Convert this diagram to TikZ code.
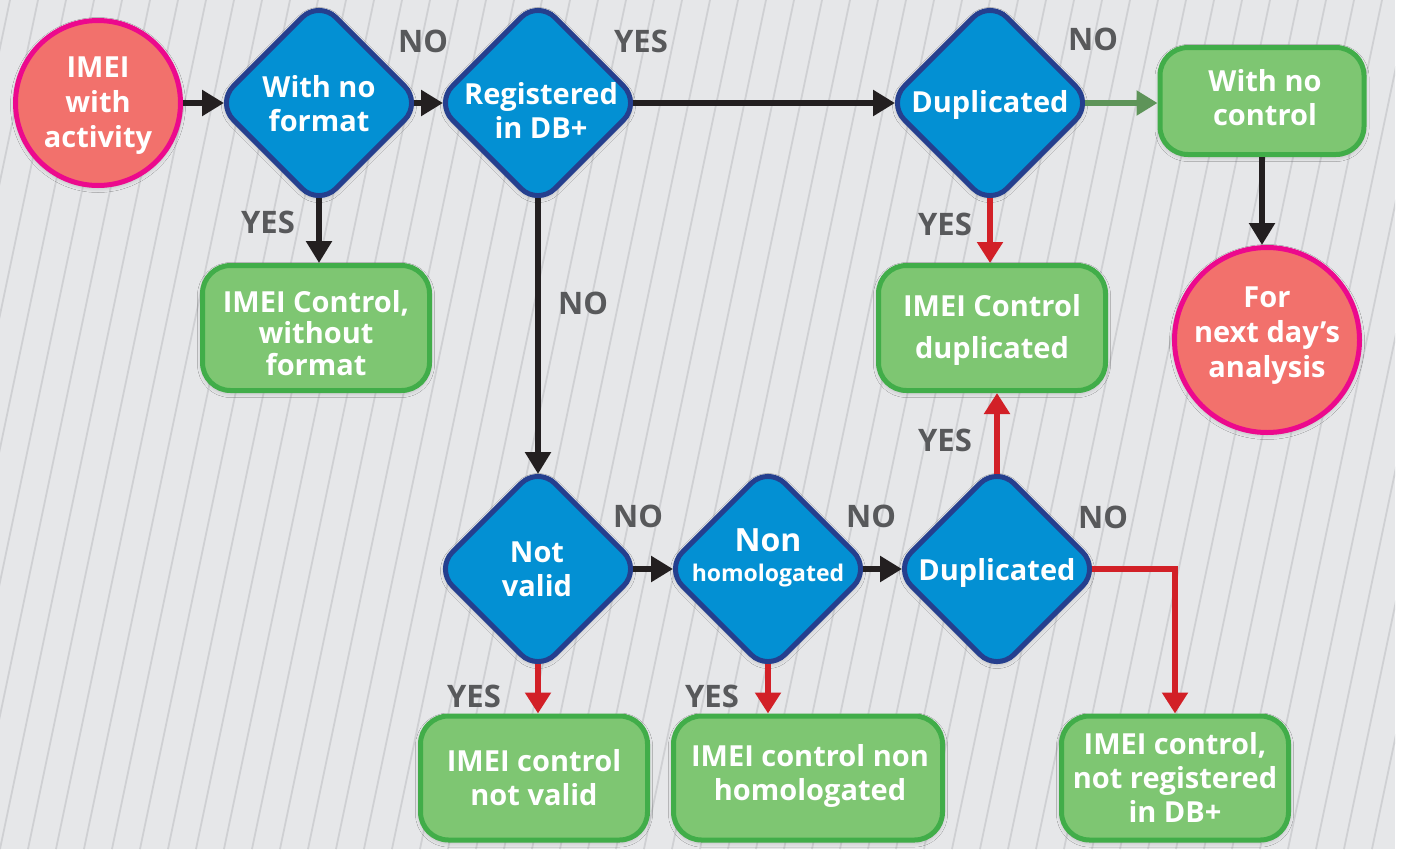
\documentclass[tikz,border=0pt]{standalone}
\usepackage{fontspec}
\setmainfont{Open Sans}
\usetikzlibrary{shapes.geometric, arrows.meta, shadows.blur}

\definecolor{bggrey}{HTML}{E6E7E9}
\definecolor{stripegrey}{HTML}{CFD0D3}
\definecolor{diafill}{HTML}{0390D3}
\definecolor{diaborder}{HTML}{253F8E}
\definecolor{boxfill}{HTML}{7EC672}
\definecolor{boxborder}{HTML}{41AD49}
\definecolor{circfill}{HTML}{F2716C}
\definecolor{circborder}{HTML}{EC098D}
\definecolor{arrowdark}{HTML}{231F20}
\definecolor{arrowred}{HTML}{D22027}
\definecolor{arrowgreen}{HTML}{5E9459}
\definecolor{labgrey}{HTML}{58595B}

\newcommand{\fsz}[2]{\fontsize{#1}{#2}\selectfont}

\tikzset{
  softshadow/.style={blur shadow={shadow xshift=0pt, shadow yshift=-2pt,
      shadow blur radius=5pt, shadow opacity=25}},
  dia/.style={diamond, draw=diaborder, fill=diafill, line width=5pt,
      minimum width=205pt, minimum height=205pt, inner sep=0pt, outer sep=0pt,
      rounded corners=24pt, softshadow},
  procbox/.style={rectangle, rounded corners=28pt, draw=boxborder, fill=boxfill,
      line width=5pt, inner sep=0pt, softshadow},
  endcirc/.style={circle, draw=circborder, fill=circfill, line width=5pt,
      inner sep=0pt, softshadow},
  caption/.style={text=white, align=center, inner sep=0pt,
      font=\bfseries\fsz{29}{34}},
  answer/.style={text=labgrey, font=\bfseries\fsz{31}{31}, inner sep=0pt},
  blk/.style={draw=arrowdark, line width=6.5pt,
      -{Triangle[length=22pt,width=25pt]}},
  redarr/.style={draw=arrowred, line width=6pt,
      -{Triangle[length=21pt,width=25pt]}},
  grnarr/.style={draw=arrowgreen, line width=5.5pt,
      -{Triangle[length=21pt,width=24pt]}},
  fromdia/.style={shorten <=-7.5pt},
  todia/.style={shorten >=-7.5pt},
}

\begin{document}
\begin{tikzpicture}[x=1pt, y=-1pt]
  \useasboundingbox (0,0) rectangle (1408,849);

  % striped backdrop
  \fill[white] (0,0) rectangle (1408,849);
  \begin{scope}
    \clip (0,0) rectangle (1395,849);
    \fill[bggrey] (0,0) rectangle (1395,849);
    \foreach \i in {-8,...,52}
      \draw[stripegrey, line width=1.8pt] (\i*28,849) -- (\i*28+178,0);
  \end{scope}

  % decisions
  \node[dia] (d1) at (319,103) {};
  \node[dia] (d2) at (538,103) {};
  \node[dia] (d3) at (990,103) {};
  \node[dia] (d4) at (538,569) {};
  \node[dia] (d5) at (768,569) {};
  \node[dia] (d6) at (997,569) {};

  \node[caption] (d1t) at (319,104) {With no\\format};
  \node[caption] (d2t) at (541,110) {Registered\\in DB+};
  \node[caption] (d3t) at (990,105) {Duplicated};
  \node[caption] (d4t) at (537,569) {Not\\valid};
  \node[caption] (d5t) at (768,558) {{\fsz{32}{32}Non}\\[-4pt]{\fsz{23}{26}homologated}};
  \node[caption] (d6t) at (997,573) {Duplicated};

  % start and end points
  \node[endcirc, minimum size=165pt] (c1) at (98,103) {};
  \node[endcirc, minimum size=185pt] (c2) at (1267,340) {};
  \node[caption, font=\bfseries\fsz{29}{35}] (c1t) at (98,106) {IMEI\\with\\activity};
  \node[caption, font=\bfseries\fsz{29}{35}] (c2t) at (1267,336) {For\\next day’s\\analysis};

  % outcomes
  \node[procbox, minimum width=204pt, minimum height=107pt] (bwnc) at (1262,101) {};
  \node[procbox, minimum width=227pt, minimum height=125pt] (bfmt) at (316,328) {};
  \node[procbox, minimum width=227pt, minimum height=125pt] (bdup) at (992,328) {};
  \node[procbox, minimum width=227pt, minimum height=124pt] (bnv) at (534,778) {};
  \node[procbox, minimum width=269pt, minimum height=124pt] (bnh) at (808,778) {};
  \node[procbox, minimum width=227pt, minimum height=124pt] (bnr) at (1175,778) {};

  \node[caption] (bwnct) at (1265,98) {With no\\control};
  \node[caption, font=\bfseries\fsz{29}{31.5}] (bfmtt) at (316,333) {IMEI Control,\\without\\format};
  \node[caption, font=\bfseries\fsz{29}{42}] (bdupt) at (992,330) {IMEI Control\\duplicated};
  \node[caption] (bnvt) at (534,778) {IMEI control\\not valid};
  \node[caption] (bnht) at (810,776) {IMEI control non\\homologated};
  \node[caption] (bnrt) at (1175,777) {IMEI control,\\not registered\\in DB+};

  % flow
  \draw[blk, todia] (c1.east) -- (d1.west);
  \draw[blk, fromdia, todia] (d1.east) -- (d2.west);
  \draw[blk, fromdia, todia] (d2.east) -- (d3.west);
  \draw[grnarr, fromdia] (d3.east) -- (d3.east -| bwnc.west);
  \draw[blk] (bwnc.south) -- (bwnc.south |- c2.north);
  \draw[blk, fromdia] (d1.south) -- (d1.south |- bfmt.north);
  \draw[blk, fromdia, todia] (d2.south) -- (d4.north);
  \draw[blk, fromdia, todia] (d4.east) -- (d5.west);
  \draw[blk, fromdia, todia] (d5.east) -- (d6.west);
  \draw[redarr, fromdia] (d4.south) -- (d4.south |- bnv.north);
  \draw[redarr, fromdia] (d5.south) -- (d5.south |- bnh.north);
  \draw[redarr, fromdia] (d6.north) -- (d6.north |- bdup.south);
  \draw[redarr, fromdia] (d3.south) -- (d3.south |- bdup.north);
  \draw[redarr, fromdia] (d6.east) -| (bnr.north);

  % branch answers
  \node[answer] (a1) at (423,41) {NO};
  \node[answer] (a2) at (641,41) {YES};
  \node[answer] (a3) at (1093,39) {NO};
  \node[answer] (a4) at (268,222) {YES};
  \node[answer] (a5) at (583,303) {NO};
  \node[answer] (a6) at (945,224) {YES};
  \node[answer] (a7) at (945,440) {YES};
  \node[answer] (a8) at (638,516) {NO};
  \node[answer] (a9) at (871,516) {NO};
  \node[answer] (a10) at (1103,517) {NO};
  \node[answer] (a11) at (474,696) {YES};
  \node[answer] (a12) at (712,696) {YES};
\end{tikzpicture}
\end{document}
